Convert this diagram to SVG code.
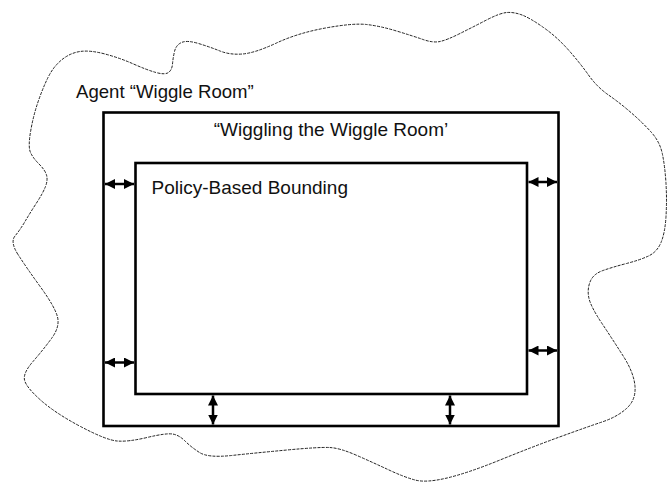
<svg xmlns="http://www.w3.org/2000/svg" width="667" height="484" viewBox="0 0 667 484">
  <style>
    .box { fill: none; stroke: #000; stroke-width: 2.6; }
    .blob { fill: none; stroke: #222; stroke-width: 1; stroke-dasharray: 3 1.2; }
    .lbl { font-family: "Liberation Sans", Arial, Helvetica, sans-serif; font-size: 19px; fill: #111; }
    .gap { stroke: #000; stroke-width: 2.5; marker-start: url(#head); marker-end: url(#head); }
  </style>
  <defs>
    <marker id="head" viewBox="0 0 10 10" refX="10" refY="5" markerWidth="10" markerHeight="10" markerUnits="userSpaceOnUse" orient="auto-start-reverse">
      <path d="M0,0 L10,5 L0,10 Z" fill="#000"/>
    </marker>
  </defs>
  <rect width="667" height="484" fill="#fff"/>

  <!-- freeform outline of the agent's full range of motion -->
  <g id="agent-wiggle-room">
    <path class="blob" d="M18,254.5
      Q10,242 15,236 Q20,230 25,221.5 Q30,213 36.5,203 Q43,193 45.5,186.5 Q48,180 46.5,175
      Q45,170 39,164 Q33,158 30.5,152.5 Q28,147 30.5,132 Q33,117 37.5,103.5 Q42,90 47.5,78.5
      Q53,67 61.5,60 Q70,53 80,51.5 Q90,50 105,54 Q120,58 133.5,64 Q147,70 156,72.5
      Q165,75 168.5,72.5 Q172,70 172.5,64 Q173,58 174.5,51.5 Q176,45 181.5,42.5 Q187,40 198.5,43.5
      Q210,47 220,51 Q230,55 242.5,54 Q255,53 276.5,43 Q298,33 325.5,28
      Q353,23 366.5,24.5 Q380,26 396.5,31 Q413,36 423,39.5 Q433,43 440,41.5 Q447,40 460,33.5
      Q473,27 486.5,20 Q500,13 507,12.5 Q514,12 522,15 Q530,18 543.5,27.5 Q557,37 568.5,50
      Q580,63 588.5,75 Q597,87 608.5,95 Q620,103 631.5,113 Q643,123 651.5,132.5 Q660,142 662.5,154.5
      Q665,167 666,183.5 Q667,200 666,216.5 Q665,233 661,242.5 Q657,252 648.5,256 Q640,260 626.5,263.5
      Q613,267 603,270.5 Q593,274 590,282 Q587,290 589,298.5 Q591,307 602,323.5
      Q613,340 623.5,356.5 Q634,373 635,386.5
      Q636,400 626.5,408.5 Q617,417 602,422 Q587,427 559.5,437 Q532,447 500,460 Q468,473 447,478
      Q426,483 415,480 Q404,477 389,470 Q374,463 357,455.5 Q340,448 329.5,447.5 Q319,447 287,450
      Q255,453 231.5,455.5 Q208,458 199.5,452.5 Q191,447 185,441 Q179,435 172.5,434 Q166,433 147,437.5
      Q128,442 117,441 Q106,440 80.5,426.5 Q55,413 40.5,400 Q26,387 24.5,380 Q23,373 33,361.5
      Q43,350 51.5,338.5 Q60,327 57.5,317 Q55,307 40.5,287 Q26,267 18,254.5 Z"/>
    <text class="lbl" x="76" y="97.5" style="font-size:18.6px">Agent “Wiggle Room”</text>
  </g>

  <!-- adjustable outer bound -->
  <g id="wiggling-the-wiggle-room">
    <rect class="box" x="103.5" y="112.5" width="455" height="313.5"/>
    <text class="lbl" x="331" y="135.5" text-anchor="middle">“Wiggling the Wiggle Room’</text>
  </g>

  <!-- fixed policy bound -->
  <g id="policy-based-bounding">
    <rect class="box" x="135.5" y="163" width="391.5" height="231"/>
    <text class="lbl" x="151.5" y="193.5">Policy-Based Bounding</text>
  </g>

  <!-- two-way arrows spanning the gap between the bounds -->
  <g id="connectors">
    <line class="gap" x1="105" y1="184" x2="134" y2="184"/>
    <line class="gap" x1="528.5" y1="182" x2="557" y2="182"/>
    <line class="gap" x1="105" y1="362.5" x2="134" y2="362.5"/>
    <line class="gap" x1="528.5" y1="350.5" x2="557" y2="350.5"/>
    <line class="gap" x1="213" y1="395.5" x2="213" y2="424.5"/>
    <line class="gap" x1="450" y1="395.5" x2="450" y2="424.5"/>
  </g>
</svg>
